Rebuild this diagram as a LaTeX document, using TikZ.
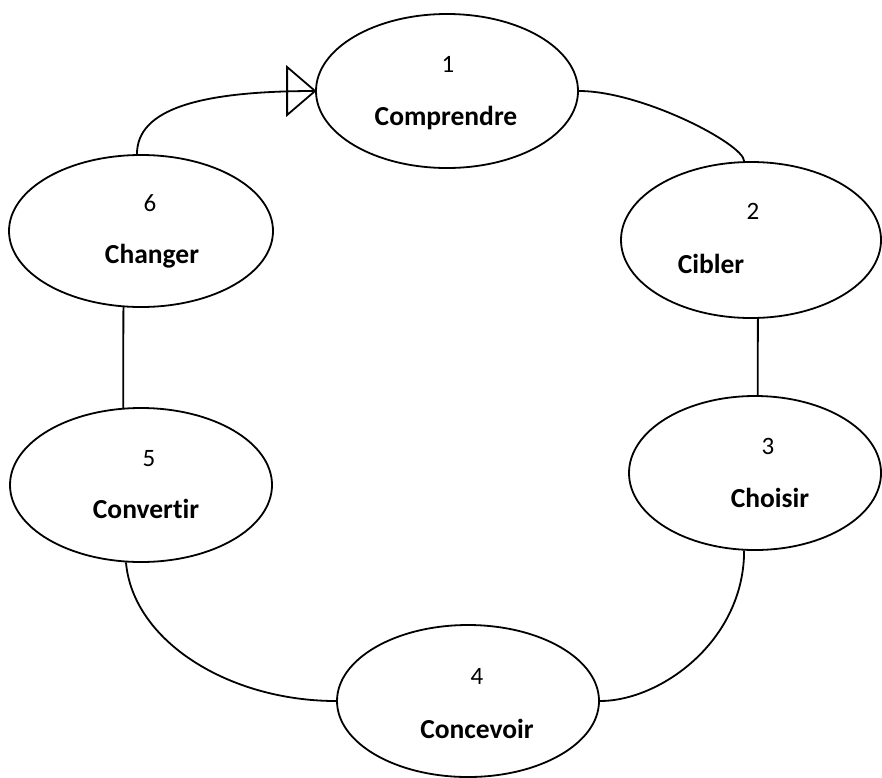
\documentclass[tikz,border=0pt]{standalone}
\usepackage{fontspec}
\setmainfont{Carlito}[Ligatures=CommonOff]
\usetikzlibrary{shapes.geometric}
\begin{document}
\begin{tikzpicture}[x=1pt,y=-1pt,
  stage/.style={draw=black,line width=1.8pt,ellipse,inner sep=0pt},
  stagenum/.style={anchor=base,inner sep=0pt,font=\fontsize{25}{30}\selectfont},
  stagetitle/.style={anchor=base,inner sep=0pt,font=\fontsize{27.5}{32}\selectfont\bfseries},
  link/.style={draw=black,line width=1.8pt},
  opentip/.style={draw=black,line width=1.8pt,line join=miter}]
\useasboundingbox (0,0) rectangle (882,777);

% the six stages
\node[stage,minimum width=262pt,minimum height=154pt] (e1) at (447,91) {};
\node[stage,minimum width=260pt,minimum height=156pt] (e2) at (751,240) {};
\node[stage,minimum width=252pt,minimum height=154pt] (e3) at (755,473) {};
\node[stage,minimum width=262pt,minimum height=152pt] (e4) at (468,701) {};
\node[stage,minimum width=262pt,minimum height=154pt] (e5) at (141,485) {};
\node[stage,minimum width=264pt,minimum height=152pt] (e6) at (141,231) {};

% numbers and titles
\node[stagenum] (n1) at (448,72) {1};
\node[stagetitle] (t1) at (446,125) {Comprendre};
\node[stagenum] (n2) at (753,219) {2};
\node[stagetitle] (t2) at (711,273) {Cibler};
\node[stagenum] (n3) at (768,454) {3};
\node[stagetitle] (t3) at (770,507) {Choisir};
\node[stagenum] (n4) at (477,684) {4};
\node[stagetitle] (t4) at (477,738) {Concevoir};
\node[stagenum] (n5) at (149,466) {5};
\node[stagetitle] (t5) at (146,518) {Convertir};
\node[stagenum] (n6) at (150,211) {6};
\node[stagetitle] (t6) at (152,263) {Changer};

% connectors
\draw[link] (e1.east) .. controls +(63,0) and +(0,-17) .. (e2.95);
\draw[link] (e2.-85) -- (e3.88);
\draw[link] (e3.-98) .. controls +(0,90) and +(61,0) .. (e4.east);
\draw[link] (e4.west) .. controls +(-107,0) and +(7,79) .. (e5.-101);
\draw[link] (e5.103) -- (e6.-103);
\draw[link] (e6.93) .. controls +(0,-45) and +(-116,0) .. (e1.west);
\draw[opentip] (e1.west) -- ++(-28,-24) -- ++(0,48) -- cycle;
\end{tikzpicture}
\end{document}
